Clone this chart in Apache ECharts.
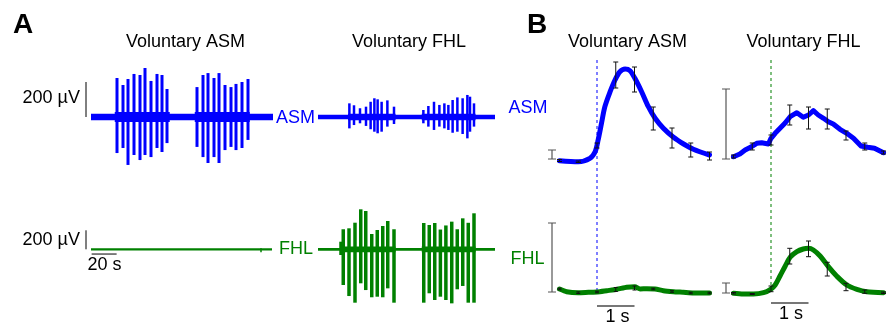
<!DOCTYPE html>
<html>
<head>
<meta charset="utf-8">
<script src="https://cdn.jsdelivr.net/npm/echarts/dist/echarts.min.js"></script>
<style>
  html, body { margin: 0; padding: 0; background: #fff; }
  #emgFigure { width: 891px; height: 327px; }
</style>
</head>
<body>
<div id="emgFigure"></div>
<script>
/*
 * EMG figure: A = raw traces, B = averaged envelopes (onset at t = 0)
 */
const BLUE = '#0000ff';
const GREEN = '#008000';
const FONT = '"Liberation Sans", Arial, Helvetica, sans-serif';

// ---- panel A: raw EMG, spikes as [time s, top µV, bottom µV] ----
const asmVolAsmSpikes = [
  [20.8, 223, -206], [25.6, 183, -177], [29.6, 217, -274], [34.4, 246, -217], [39.2, 240, -246],
  [43.2, 280, -217], [48.0, 206, -229], [52.8, 246, -177], [56.8, 240, -200], [60.8, 160, -149],
  [84.8, 171, -171], [89.6, 240, -229], [93.6, 251, -263], [98.4, 223, -229], [102.4, 251, -263],
  [107.2, 183, -189], [112.0, 171, -171], [116.0, 189, -189], [120.8, 200, -177], [125.6, 217, -131],
];
const asmVolFhlSpikes = [
  [25.1, 78, -65], [28.8, 67, -46], [33.6, 50, -36], [38.4, 59, -51], [42.1, 87, -70],
  [45.1, 107, -84], [47.7, 101, -93], [50.9, 87, -84], [55.5, 95, -55], [60.8, 59, -40],
  [84.3, 40, -36], [88.3, 63, -55], [92.8, 87, -74], [97.1, 69, -55], [101.1, 78, -65],
  [104.3, 69, -74], [107.7, 97, -90], [111.5, 112, -84], [115.7, 107, -97], [119.5, 126, -122],
  [121.6, 116, -84], [124.8, 78, -55],
];
const fhlVolAsmSpikes = [
  [136.0, 10, -30],
];
const fhlVolFhlSpikes = [
  [18.4, 80, -60], [20.2, 211, -376], [24.8, 221, -492], [29.6, 280, -562], [34.2, 421, -358],
  [38.2, 403, -429], [43.0, 161, -505], [47.4, 203, -499], [51.8, 245, -505], [55.8, 298, -411],
  [60.8, 211, -562],
  [84.6, 277, -562], [89.0, 256, -463], [93.4, 277, -534], [97.9, 208, -499], [102.3, 251, -534],
  [107.0, 291, -569], [111.4, 211, -421], [115.8, 326, -386], [120.2, 279, -562], [124.8, 379, -562],
];
// background noise bands [start s, end s, ± µV]
const asmVolAsmNoise = [[0, 145.6, 18], [19, 63, 28], [83, 127, 28]];
const asmVolFhlNoise = [[0, 141.6, 13], [24, 62, 19], [83, 126, 19]];
const fhlVolAsmNoise = [[0, 144.8, 12]];
const fhlVolFhlNoise = [[0, 141.6, 15], [18, 62, 30], [83, 126, 30]];

// ---- panel B: averaged envelopes [time s, normalised], error bars [time s, low, high] ----
const asmVolAsmEnv = [
  [-1.0, 0.013], [-0.5, 0.003], [-0.19, 0.037], [-0.05, 0.103], [0.03, 0.22], [0.12, 0.387],
  [0.21, 0.553], [0.35, 0.703], [0.48, 0.82], [0.61, 0.903], [0.75, 0.93], [0.88, 0.913],
  [1.01, 0.837], [1.19, 0.703], [1.37, 0.553], [1.55, 0.437], [1.77, 0.337], [2.04, 0.247],
  [2.31, 0.18], [2.57, 0.127], [3.0, 0.07],
];
const asmVolFhlEnv = [
  [-1.0, 0.053], [-0.83, 0.08], [-0.69, 0.12], [-0.52, 0.153], [-0.38, 0.187], [-0.25, 0.193],
  [-0.07, 0.18], [0, 0.237], [0.11, 0.287], [0.24, 0.337], [0.37, 0.387], [0.51, 0.453],
  [0.69, 0.493], [0.86, 0.447], [1.0, 0.47], [1.13, 0.513], [1.26, 0.47], [1.4, 0.437],
  [1.53, 0.403], [1.66, 0.38], [1.84, 0.327], [2.02, 0.287], [2.2, 0.237], [2.4, 0.16],
  [2.58, 0.147], [2.76, 0.137], [3.0, 0.093],
];
const fhlVolAsmEnv = [
  [-1.0, 0.06], [-0.81, 0.033], [-0.5, 0.023], [-0.23, 0.027], [0.01, 0.03], [0.26, 0.043],
  [0.53, 0.057], [0.79, 0.077], [1.01, 0.083], [1.15, 0.06], [1.33, 0.063], [1.55, 0.06],
  [1.77, 0.043], [2.04, 0.033], [2.3, 0.027], [2.57, 0.02], [3.0, 0.02],
];
const fhlVolFhlEnv = [
  [-1.0, 0.017], [-0.74, 0.01], [-0.47, 0.01], [-0.2, 0.023], [-0.01, 0.057], [0.11, 0.1],
  [0.24, 0.19], [0.37, 0.283], [0.51, 0.377], [0.69, 0.433], [0.86, 0.46], [1.0, 0.467],
  [1.13, 0.45], [1.31, 0.39], [1.53, 0.283], [1.75, 0.19], [2.02, 0.1], [2.29, 0.057],
  [2.55, 0.033], [3.0, 0.023],
];
const asmVolAsmErr = [
  [-1.0, 0.005, 0.025], [-0.5, -0.005, 0.01], [0, 0.14, 0.19], [0.5, 0.74, 1.0], [1.0, 0.7, 0.95],
  [1.5, 0.32, 0.55], [2.0, 0.14, 0.34], [2.5, 0.05, 0.19], [3.0, 0.02, 0.1],
];
const asmVolFhlErr = [
  [-1.0, 0.04, 0.07], [-0.5, 0.12, 0.19], [0, 0.17, 0.27], [0.5, 0.37, 0.57], [1.0, 0.33, 0.55],
  [1.5, 0.33, 0.53], [2.0, 0.22, 0.31], [2.5, 0.12, 0.19], [3.0, 0.08, 0.11],
];
const fhlVolAsmErr = [
  [-1.0, 0.052, 0.068], [-0.5, 0.015, 0.031], [0, 0.022, 0.038], [0.5, 0.035, 0.075], [1.0, 0.05, 0.09],
  [1.5, 0.052, 0.068], [2.0, 0.027, 0.043], [2.5, 0.012, 0.028], [3.0, 0.012, 0.028],
];
const fhlVolFhlErr = [
  [-1.0, 0.01, 0.025], [-0.5, 0.005, 0.015], [0, 0.033, 0.09], [0.5, 0.31, 0.467], [1.0, 0.383, 0.54],
  [1.5, 0.19, 0.327], [2.0, 0.043, 0.117], [2.5, 0.017, 0.05], [3.0, 0.015, 0.03],
];

// scale bars [x0, y0, x1, y1] in each plot's units
const scaleBarsA = [
  { grid: 0, bar: [-4, 0, -4, 200] },      // 200 µV (ASM)
  { grid: 2, bar: [-4, 0, -4, 200] },      // 200 µV (FHL)
  { grid: 2, bar: [0.5, -50, 20.5, -50] }, // 20 s
];
const scaleBarsB = [
  { grid: 4, bar: [-1.2, 0.03, -1.2, 0.12] },
  { grid: 5, bar: [-1.2, 0.03, -1.2, 0.73] },
  { grid: 6, bar: [-1.2, 0.03, -1.2, 0.72] },
  { grid: 7, bar: [-1.2, 0.02, -1.2, 0.12] },
];
const timeBarsB = [
  { grid: 6, bar: [0, -0.11, 1, -0.11] },
  { grid: 7, bar: [0, -0.08, 1, -0.08] },
];
const onsetLines = [
  { grid: 4, color: BLUE, line: [[0, 1.02], [0, -1.31]] },
  { grid: 5, color: GREEN, line: [[0, 1.02], [0, -1.31]] },
];

const myChart = echarts.init(document.getElementById('emgFigure'), null, { renderer: 'canvas' });

// grid layout in px
const grids = [
  { left: 81, top: 64.5, width: 192, height: 105 },
  { left: 308, top: 64.5, width: 192, height: 105 },
  { left: 81, top: 192.3, width: 192, height: 114 },
  { left: 308, top: 192.3, width: 192, height: 114 },
  { left: 544.5, top: 62, width: 172.5, height: 100 },
  { left: 718.5, top: 62, width: 172.5, height: 100 },
  { left: 544.5, top: 195, width: 172.5, height: 100 },
  { left: 718.5, top: 195, width: 172.5, height: 100 },
];
const xRanges = [[-8, 145.6], [-8, 145.6], [-8, 145.6], [-8, 145.6], [-1.4, 3.2], [-1.4, 3.2], [-1.4, 3.2], [-1.4, 3.2]];
const yRanges = [[-300, 300], [-300, 300], [-600, 600], [-600, 600], [0, 1], [0, 1], [0, 1], [0, 1]];

const xAxis = xRanges.map((r, i) => ({ type: 'value', gridIndex: i, min: r[0], max: r[1], show: false }));
const yAxis = yRanges.map((r, i) => ({ type: 'value', gridIndex: i, min: r[0], max: r[1], show: false }));

function spikeSeries(idx, data, color, width) {
  return {
    type: 'custom', xAxisIndex: idx, yAxisIndex: idx, data: data, silent: true, z: 3,
    renderItem: (params, api) => {
      const a = api.coord([api.value(0), api.value(1)]);
      const b = api.coord([api.value(0), api.value(2)]);
      return {
        type: 'line',
        shape: { x1: a[0], y1: a[1], x2: b[0], y2: b[1] },
        style: { stroke: color, lineWidth: width },
      };
    },
  };
}

function noiseSeries(idx, data, color) {
  return {
    type: 'custom', xAxisIndex: idx, yAxisIndex: idx, data: data, silent: true, z: 2,
    renderItem: (params, api) => {
      const a = api.coord([api.value(0), api.value(2)]);
      const b = api.coord([api.value(1), -api.value(2)]);
      return {
        type: 'rect',
        shape: { x: a[0], y: a[1], width: b[0] - a[0], height: b[1] - a[1] },
        style: { fill: color },
      };
    },
  };
}

function errorBarSeries(idx, data, color, cap) {
  return {
    type: 'custom', xAxisIndex: idx, yAxisIndex: idx, data: data, silent: true, z: 5,
    renderItem: (params, api) => {
      const lo = api.coord([api.value(0), api.value(1)]);
      const hi = api.coord([api.value(0), api.value(2)]);
      const st = { stroke: color, lineWidth: 1 };
      return {
        type: 'group',
        children: [
          { type: 'line', shape: { x1: lo[0], y1: lo[1], x2: hi[0], y2: hi[1] }, style: st },
          { type: 'line', shape: { x1: lo[0] - cap, y1: lo[1], x2: lo[0] + cap, y2: lo[1] }, style: st },
          { type: 'line', shape: { x1: hi[0] - cap, y1: hi[1], x2: hi[0] + cap, y2: hi[1] }, style: st },
        ],
      };
    },
  };
}

function barSeries(item, color, width, cap) {
  const d = item.bar;
  return {
    type: 'custom', xAxisIndex: item.grid, yAxisIndex: item.grid, data: [d], silent: true, z: 4,
    renderItem: (params, api) => {
      const a = api.coord([api.value(0), api.value(1)]);
      const b = api.coord([api.value(2), api.value(3)]);
      const st = { stroke: color, lineWidth: width };
      const children = [{ type: 'line', shape: { x1: a[0], y1: a[1], x2: b[0], y2: b[1] }, style: st }];
      if (cap) {
        const cs = { stroke: color, lineWidth: 1 };
        children.push({ type: 'line', shape: { x1: a[0] - cap, y1: a[1], x2: a[0] + cap, y2: a[1] }, style: cs });
        children.push({ type: 'line', shape: { x1: b[0] - cap, y1: b[1], x2: b[0] + cap, y2: b[1] }, style: cs });
      }
      return { type: 'group', children: children };
    },
  };
}

function envSeries(idx, data, color, smooth) {
  return {
    type: 'line', xAxisIndex: idx, yAxisIndex: idx, data: data, showSymbol: false, silent: true,
    smooth: smooth, clip: false, z: 4,
    lineStyle: { color: color, width: 5, cap: 'round', join: 'round' },
  };
}

const series = [
  noiseSeries(0, asmVolAsmNoise, BLUE),
  spikeSeries(0, asmVolAsmSpikes, BLUE, 3),
  noiseSeries(1, asmVolFhlNoise, BLUE),
  spikeSeries(1, asmVolFhlSpikes, BLUE, 2.5),
  noiseSeries(2, fhlVolAsmNoise, GREEN),
  spikeSeries(2, fhlVolAsmSpikes, GREEN, 1.5),
  noiseSeries(3, fhlVolFhlNoise, GREEN),
  spikeSeries(3, fhlVolFhlSpikes, GREEN, 3.5),
];

onsetLines.forEach((o) => {
  series.push({
    type: 'line', xAxisIndex: o.grid, yAxisIndex: o.grid, data: o.line, showSymbol: false,
    silent: true, clip: false, z: 1,
    lineStyle: { color: o.color, width: 1, type: [3, 3] },
  });
});

series.push(envSeries(4, asmVolAsmEnv, BLUE, 0.3));
series.push(envSeries(5, asmVolFhlEnv, BLUE, false));
series.push(envSeries(6, fhlVolAsmEnv, GREEN, 0.2));
series.push(envSeries(7, fhlVolFhlEnv, GREEN, 0.3));
series.push(errorBarSeries(4, asmVolAsmErr, '#111', 2.5));
series.push(errorBarSeries(5, asmVolFhlErr, '#111', 2.5));
series.push(errorBarSeries(6, fhlVolAsmErr, '#111', 2));
series.push(errorBarSeries(7, fhlVolFhlErr, '#111', 2.5));

scaleBarsA.forEach((b) => series.push(barSeries(b, b.bar[0] === b.bar[2] ? '#000' : '#555', b.bar[0] === b.bar[2] ? 1 : 1.5, 0)));
scaleBarsB.forEach((b) => series.push(barSeries(b, '#555', 1.2, 4)));
timeBarsB.forEach((b) => series.push(barSeries(b, '#777', 2, 0)));

function txt(text, x, y, opts) {
  const o = opts || {};
  return {
    type: 'text', x: x, y: y, silent: true,
    style: {
      text: text,
      fill: o.color || '#000',
      font: (o.bold ? 'bold ' : '') + (o.size || 18) + 'px ' + FONT,
      align: o.align || 'center',
      verticalAlign: 'middle',
      textAlign: o.align || 'center',
      textVerticalAlign: 'middle',
    },
  };
}

const labels = [
  txt('A', 23, 25, { bold: true, size: 28 }),
  txt('B', 537, 25, { bold: true, size: 28 }),
  txt('Voluntary ASM', 185.5, 42),
  txt('Voluntary FHL', 409, 42),
  txt('Voluntary ASM', 627.5, 42),
  txt('Voluntary FHL', 803.5, 42),
  txt('200 µV', 80, 98, { align: 'right' }),
  txt('200 µV', 80, 240.5, { align: 'right' }),
  txt('20 s', 104.5, 265.5),
  txt('ASM', 295.5, 118, { color: BLUE }),
  txt('FHL', 296, 249.5, { color: GREEN }),
  txt('ASM', 528, 108.3, { color: BLUE }),
  txt('FHL', 527.5, 259.5, { color: GREEN }),
  txt('1 s', 617.5, 317.5),
  txt('1 s', 791, 314),
];

myChart.setOption({
  animation: false,
  backgroundColor: '#fff',
  grid: grids,
  xAxis: xAxis,
  yAxis: yAxis,
  series: series,
  graphic: { elements: labels },
});
window.addEventListener('resize', myChart.resize);
</script>
</body>
</html>
